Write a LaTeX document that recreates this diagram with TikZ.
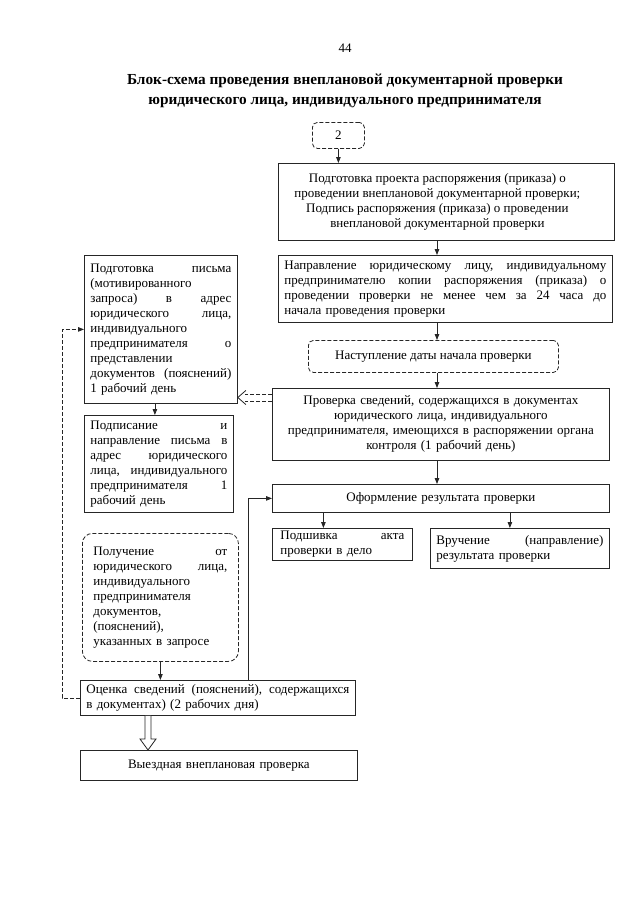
\documentclass[tikz,border=0pt]{standalone}
\usepackage{fontspec}
\setmainfont{Liberation Serif}
\usetikzlibrary{arrows.meta,calc}
\newcommand{\jl}[2]{\leavevmode\hbox to #1{#2}\\}
\tikzset{
  base/.style={draw=black!85, line width=0.8pt, anchor=north west, inner xsep=6pt, inner ysep=2pt, font=\fontsize{13}{15}\selectfont},
  cbox/.style={base, align=center},
  lbox/.style={base, align=left},
  dbox/.style={base, align=center, dash pattern=on 4pt off 2pt, rounded corners=5pt},
  txt/.style={font=\fontsize{13}{15}\selectfont, align=center, inner sep=0pt},
  arr/.style={draw=black!85, line width=0.8pt, -{Triangle[length=6pt,width=4.5pt]}},
  darr/.style={arr, dash pattern=on 4pt off 2pt},
  dl/.style={draw=black!85, line width=0.8pt, dash pattern=on 4pt off 2pt},
  sl/.style={draw=black!85, line width=0.8pt},
}
\begin{document}
\begin{tikzpicture}[x=1pt,y=-1pt]
\fill[white] (0,0) rectangle (640,905);
\useasboundingbox (0,0) rectangle (640,905);

\node[font=\fontsize{13}{15}\selectfont] (pg) at (345,48) {44};
\node[font=\fontsize{15.3}{20}\selectfont\bfseries, align=center] (title) at (345,91)
  {Блок-схема проведения внеплановой документарной проверки\\юридического лица, индивидуального предпринимателя};

\node[dbox, minimum width=52pt, minimum height=26pt] (n2) at (312,122) {2};

\node[base, minimum width=336pt, minimum height=77pt] (p1) at (278,163) {};
\node[txt] (p1t) at ([xshift=-9pt]p1.center)
  {Подготовка проекта распоряжения (приказа) о\\
   проведении внеплановой документарной проверки;\\
   Подпись распоряжения (приказа) о проведении\\
   внеплановой документарной проверки};

\node[lbox, text width=322pt, minimum height=67pt] (p2) at (278,255)
  {\jl{322pt}{Направление\hfill юридическому\hfill лицу,\hfill индивидуальному}
   \jl{322pt}{предпринимателю\hfill копии\hfill распоряжения\hfill (приказа)\hfill о}
   \jl{322pt}{проведении\hfill проверки\hfill не\hfill менее\hfill чем\hfill за\hfill 24\hfill часа\hfill до}
   начала проведения проверки};

\node[dbox, minimum width=250pt, minimum height=32pt] (p3) at (308,340)
  {Наступление даты начала проверки};

\node[cbox, text width=325pt, minimum height=72pt] (p4) at (272,388)
  {Проверка сведений, содержащихся в документах\\
   юридического лица, индивидуального\\
   предпринимателя, имеющихся в распоряжении органа\\
   контроля (1 рабочий день)};

\node[cbox, text width=325pt, minimum height=28pt] (F) at (272,484)
  {Оформление результата проверки};

\node[lbox, text width=124pt, inner xsep=8pt, minimum height=32pt] (G) at (272,528)
  {\jl{124pt}{Подшивка\hfill акта}
   проверки в дело};

\node[lbox, text width=167pt, minimum height=40pt] (H) at (430,528)
  {\jl{167pt}{Вручение\hfill (направление)}
   результата проверки};

\node[lbox, text width=141pt, minimum height=148pt] (A) at (84,255)
  {\jl{141pt}{Подготовка\hfill письма}
   (мотивированного\\
   \jl{141pt}{запроса)\hfill в\hfill адрес}
   \jl{141pt}{юридического\hfill лица,}
   индивидуального\\
   \jl{141pt}{предпринимателя\hfill о}
   представлении\\
   \jl{141pt}{документов\hfill (пояснений)}
   1 рабочий день};

\node[lbox, text width=137pt, minimum height=97pt] (B) at (84,415)
  {\jl{137pt}{Подписание\hfill и}
   \jl{137pt}{направление\hfill письма\hfill в}
   \jl{137pt}{адрес\hfill юридического}
   \jl{137pt}{лица,\hfill индивидуального}
   \jl{137pt}{предпринимателя\hfill 1}
   рабочий день};

\node[base, align=left, dash pattern=on 4pt off 2pt, rounded corners=10pt, text width=134pt, inner xsep=11pt, minimum height=128pt] (C) at (82,533)
  {\jl{134pt}{Получение\hfill от}
   \jl{134pt}{юридического\hfill лица,}
   индивидуального\\
   предпринимателя\\
   документов,\\
   (пояснений),\\
   указанных в запросе};

\node[lbox, text width=263pt, minimum height=35pt] (E) at (80,680)
  {\jl{263pt}{Оценка\hfill сведений\hfill (пояснений),\hfill содержащихся}
   в документах) (2 рабочих дня)};

\node[cbox, text width=265pt, minimum height=30pt] (I) at (80,750)
  {Выездная внеплановая проверка};

% main column arrows
\coordinate (cx) at (437,0);
\draw[arr] (n2.south) -- (n2.south |- p1.north);
\draw[arr] (cx |- p1.south) -- (cx |- p2.north);
\draw[arr] (cx |- p2.south) -- (cx |- p3.north);
\draw[arr] (cx |- p3.south) -- (cx |- p4.north);
\draw[arr] (cx |- p4.south) -- (cx |- F.north);
\draw[arr] ([xshift=-19pt]G.north |- F.south) -- ([xshift=-19pt]G.north);
\draw[arr] ([xshift=-10pt]H.north |- F.south) -- ([xshift=-10pt]H.north);

% left column
\draw[arr] ([xshift=-4pt]B.north |- A.south) -- ([xshift=-4pt]B.north);
\draw[arr] (C.south) -- (C.south |- E.north);
\draw[arr] ([xshift=30.5pt]E.north) |- (F.west);
\draw[darr] (E.west) -- ++(-18,0) |- (A.west);

% double dashed arrow from p4 to A
\coordinate (dt) at ([yshift=-9.5pt]p4.north west);
\coordinate (tip) at (A.east |- dt);
\draw[dl] ([yshift=3.5pt]dt) -- ([xshift=7pt,yshift=3.5pt]tip);
\draw[dl] ([yshift=-3.5pt]dt) -- ([xshift=7pt,yshift=-3.5pt]tip);
\draw[sl] ([xshift=8pt,yshift=7pt]tip) -- (tip) -- ([xshift=8pt,yshift=-7pt]tip);

% hollow arrow from E to I
\coordinate (ha) at ([xshift=68pt]E.south west);
\coordinate (hb) at (ha |- I.north);
\draw[sl, fill=white] ([xshift=-3pt]ha) -- ([xshift=-3pt,yshift=11pt]hb) -- ([xshift=-8pt,yshift=11pt]hb) -- (hb)
  -- ([xshift=8pt,yshift=11pt]hb) -- ([xshift=3pt,yshift=11pt]hb) -- ([xshift=3pt]ha);
\end{tikzpicture}
\end{document}
